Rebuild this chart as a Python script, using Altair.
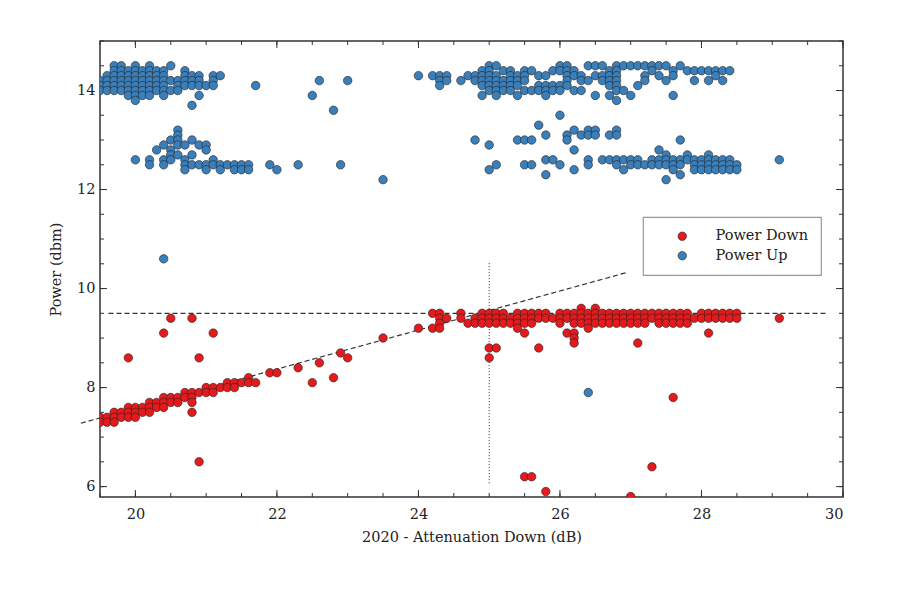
import altair as alt
import pandas as pd

# ---- data (x = attenuation, list of y = power) ----
DOWN_COLS = [
    (19.5, [7.4, 7.3]), (19.6, [7.4, 7.3]), (19.7, [7.5, 7.4, 7.3]), (19.8, [7.5, 7.4]),
    (19.9, [7.6, 7.5, 7.4, 8.6]), (20.0, [7.6, 7.5, 7.4]), (20.1, [7.6, 7.5]),
    (20.2, [7.7, 7.6, 7.5]), (20.3, [7.7, 7.6]), (20.4, [7.8, 7.7, 7.6, 9.1]),
    (20.5, [7.8, 7.7, 9.4]), (20.6, [7.8, 7.7]), (20.7, [7.9, 7.8]),
    (20.8, [7.9, 7.8, 7.7, 7.5, 9.4]), (20.9, [7.9, 8.6, 6.5]), (21.0, [8.0, 7.9]),
    (21.1, [8.0, 7.9, 9.1]), (21.2, [8.0]), (21.3, [8.1, 8.0]), (21.4, [8.1, 8.0]),
    (21.5, [8.1]), (21.6, [8.2, 8.1]), (21.7, [8.1]), (21.9, [8.3]), (22.0, [8.3]),
    (22.3, [8.4]), (22.5, [8.1]), (22.6, [8.5]), (22.8, [8.2]), (22.9, [8.7]),
    (23.0, [8.6]), (23.5, [9.0]), (24.0, [9.2]), (24.2, [9.5, 9.2]),
    (24.3, [9.5, 9.4, 9.3, 9.2]), (24.4, [9.4]), (24.6, [9.5, 9.4]), (24.7, [9.3]),
    (24.8, [9.4, 9.3]), (24.9, [9.5, 9.4, 9.3]), (25.0, [9.5, 9.4, 9.3, 8.8, 8.6]),
    (25.1, [9.5, 9.4, 9.3, 8.8]), (25.2, [9.5, 9.4, 9.3]), (25.3, [9.4, 9.3]),
    (25.4, [9.5, 9.4, 9.3, 9.2]), (25.5, [9.5, 9.4, 9.3, 9.1, 6.2]),
    (25.6, [9.5, 9.4, 9.3, 6.2]), (25.7, [9.5, 9.4, 8.8]), (25.8, [9.5, 9.4, 5.9]),
    (25.9, [9.4]), (26.0, [9.5, 9.4, 9.3]), (26.1, [9.5, 9.4, 9.1]),
    (26.2, [9.5, 9.4, 9.3, 9.1, 9.0, 8.9]), (26.3, [9.6, 9.5, 9.4, 9.3]),
    (26.4, [9.5, 9.4, 9.3, 9.2]), (26.5, [9.6, 9.5, 9.4, 9.3]), (26.6, [9.5, 9.4, 9.3]),
    (26.7, [9.5, 9.4, 9.3]), (26.8, [9.5, 9.4, 9.3]), (26.9, [9.5, 9.4, 9.3]),
    (27.0, [9.5, 9.4, 9.3, 5.8]), (27.1, [9.5, 9.4, 9.3, 8.9]), (27.2, [9.5, 9.4, 9.3]),
    (27.3, [9.5, 9.4, 6.4]), (27.4, [9.5, 9.4, 9.3]), (27.5, [9.5, 9.4, 9.3]),
    (27.6, [9.5, 9.4, 9.3, 7.8]), (27.7, [9.5, 9.4, 9.3]), (27.8, [9.5, 9.4, 9.3]),
    (27.9, [9.4]), (28.0, [9.5, 9.4]), (28.1, [9.5, 9.4, 9.1]), (28.2, [9.5, 9.4]),
    (28.3, [9.5, 9.4]), (28.4, [9.5, 9.4]), (28.5, [9.5, 9.4]), (29.1, [9.4]),
]

UP_COLS = [
    (19.5, [14.2, 14.1, 14.0]), (19.6, [14.3, 14.2, 14.1, 14.0]),
    (19.7, [14.5, 14.4, 14.3, 14.2, 14.1, 14.0]), (19.8, [14.5, 14.4, 14.3, 14.2, 14.1, 14.0]),
    (19.9, [14.4, 14.3, 14.2, 14.1, 14.0, 13.9]),
    (20.0, [14.5, 14.4, 14.3, 14.2, 14.1, 14.0, 13.9, 13.8, 12.6]),
    (20.1, [14.4, 14.3, 14.2, 14.1, 14.0, 13.9]),
    (20.2, [14.5, 14.4, 14.3, 14.2, 14.1, 14.0, 13.9, 12.6, 12.5]),
    (20.3, [14.4, 14.3, 14.2, 14.1, 14.0, 12.8]),
    (20.4, [14.4, 14.3, 14.2, 14.1, 14.0, 13.9, 12.9, 12.6, 12.5, 10.6]),
    (20.5, [14.5, 14.2, 14.0, 13.0, 12.8, 12.7, 12.6]),
    (20.6, [14.2, 14.1, 14.0, 13.2, 13.1, 13.0, 12.9, 12.7]),
    (20.7, [14.4, 14.3, 14.2, 14.1, 12.9, 12.6, 12.5, 12.4]),
    (20.8, [14.3, 14.2, 14.1, 13.7, 13.0, 12.7, 12.5]),
    (20.9, [14.3, 14.2, 14.1, 13.9, 12.9, 12.5]), (21.0, [14.1, 12.9, 12.8, 12.5, 12.4]),
    (21.1, [14.3, 14.2, 14.1, 12.6, 12.5]), (21.2, [14.3, 12.5, 12.4]), (21.3, [12.5]),
    (21.4, [12.5, 12.4]), (21.5, [12.5, 12.4]), (21.6, [12.5, 12.4]), (21.7, [14.1]),
    (21.9, [12.5]), (22.0, [12.4]), (22.3, [12.5]), (22.5, [13.9]), (22.6, [14.2]),
    (22.8, [13.6]), (22.9, [12.5]), (23.0, [14.2]), (23.5, [12.2]), (24.0, [14.3]),
    (24.2, [14.3]), (24.3, [14.3, 14.2, 14.1]), (24.4, [14.3, 14.2]), (24.6, [14.2]),
    (24.7, [14.3]), (24.8, [14.3, 14.2, 13.0]), (24.9, [14.4, 14.3, 14.2, 14.1, 13.9]),
    (25.0, [14.5, 14.4, 14.3, 14.2, 14.1, 14.0, 12.9, 12.4]),
    (25.1, [14.5, 14.3, 14.2, 14.1, 14.0, 13.9, 12.5]), (25.2, [14.4, 14.2, 14.1, 14.0]),
    (25.3, [14.4, 14.3, 14.2, 14.1, 14.0]), (25.4, [14.3, 14.2, 14.1, 13.9, 13.0]),
    (25.5, [14.4, 14.3, 14.2, 14.0, 13.0, 12.5]), (25.6, [14.4, 14.0, 13.0, 12.5]),
    (25.7, [14.3, 14.1, 14.0, 13.3]), (25.8, [14.3, 14.1, 14.0, 13.9, 13.1, 12.6, 12.3]),
    (25.9, [14.4, 14.1, 14.0, 12.6]), (26.0, [14.5, 14.4, 14.1, 14.0, 13.5, 12.5]),
    (26.1, [14.5, 14.4, 14.3, 14.2, 14.1, 13.1, 13.0]),
    (26.2, [14.4, 14.3, 14.0, 13.2, 12.8, 12.4]), (26.3, [14.3, 14.2, 14.0, 13.1]),
    (26.4, [14.5, 14.2, 13.2, 13.1, 12.6, 12.5, 7.9]), (26.5, [14.5, 14.3, 13.9, 13.2, 13.1]),
    (26.6, [14.5, 14.3, 14.2, 12.6]), (26.7, [14.4, 14.3, 14.2, 14.1, 13.9, 13.1, 12.6]),
    (26.8, [14.5, 14.4, 14.3, 14.2, 14.1, 14.0, 13.8, 13.2, 13.1, 12.6, 12.5]),
    (26.9, [14.5, 14.0, 12.6, 12.4]), (27.0, [14.5, 13.9, 12.6, 12.5]),
    (27.1, [14.5, 14.1, 12.6, 12.5]), (27.2, [14.5, 14.3, 14.2, 12.5]),
    (27.3, [14.5, 14.4, 12.6, 12.5]), (27.4, [14.5, 14.3, 12.8, 12.6, 12.5]),
    (27.5, [14.5, 14.2, 12.7, 12.6, 12.5, 12.2]), (27.6, [14.4, 14.3, 13.9, 12.6, 12.5, 12.4]),
    (27.7, [14.5, 13.0, 12.6, 12.5, 12.3]), (27.8, [14.4, 12.7, 12.6]),
    (27.9, [14.4, 14.2, 12.6, 12.5, 12.4]), (28.0, [14.4, 12.6, 12.5, 12.4]),
    (28.1, [14.4, 14.2, 12.7, 12.6, 12.5, 12.4]), (28.2, [14.4, 14.3, 12.6, 12.5, 12.4]),
    (28.3, [14.4, 14.2, 12.6, 12.5, 12.4]), (28.4, [14.4, 12.6, 12.5, 12.4]),
    (28.5, [12.5, 12.4]), (29.1, [12.6]),
]

SERIES = ["Power Down", "Power Up"]
COLORS = ["#e41a1c", "#3a7fba"]

# reference lines (endpoints)
FLAT_X = [19.62, 29.76]
FLAT_Y = [9.5, 9.5]
SLOPE_X = [19.23, 26.96]
SLOPE_Y = [7.28, 10.33]
VLINE_X = [25.0]
VLINE_Y = [6.07]
VLINE_Y2 = [10.53]

X_DOMAIN = [19.5, 30.0]
Y_DOMAIN = [5.79, 15.0]
X_LABELS = [20, 22, 24, 26, 28, 30]
Y_LABELS = [6, 8, 10, 12, 14]
X_MINOR = [19.5 + 0.5 * i for i in range(22)]
Y_MINOR = [6.0 + 0.5 * i for i in range(19)]

# ---- build tables ----
rows = []
for name, cols in (("Power Up", UP_COLS), ("Power Down", DOWN_COLS)):
    for x, ys in cols:
        for y in ys:
            rows.append({"x": x, "y": y, "series": name})
pts = pd.DataFrame(rows)

W, H = 743, 456
FONT = "DejaVu Serif"
AX = "#333333"
FS = 14.5

xs = alt.Scale(domain=X_DOMAIN, nice=False, zero=False)
ys = alt.Scale(domain=Y_DOMAIN, nice=False, zero=False)

xaxis = alt.Axis(values=X_LABELS, format="d", ticks=False, domain=False, grid=False, labelPadding=10,
                 title="2020 - Attenuation Down (dB)", titlePadding=10)
yaxis = alt.Axis(values=Y_LABELS, format="d", ticks=False, domain=False, grid=False, labelPadding=5,
                 title="Power (dbm)", titlePadding=13)

points = alt.Chart(pts).mark_circle(
    size=72, opacity=1, stroke="#222222", strokeWidth=0.6, clip=True
).encode(
    x=alt.X("x:Q", scale=xs, axis=xaxis),
    y=alt.Y("y:Q", scale=ys, axis=yaxis),
    color=alt.Color("series:N", scale=alt.Scale(domain=SERIES, range=COLORS),
                    legend=alt.Legend(title=None, orient="none", legendX=543, legendY=176,
                                      padding=12, symbolOffset=20, labelOffset=26,
                                      labelExpr="datum.label + '\u00a0\u00a0\u00a0\u00a0'",
                                      fillColor="white", strokeColor="#999999",
                                      symbolType="circle", symbolSize=72,
                                      symbolStrokeWidth=0.6, symbolStrokeColor="#222222",
                                      rowPadding=4.5, labelFontSize=FS, labelFont=FONT,
                                      labelColor="#222222")),
)

flat = alt.Chart(pd.DataFrame({"x": FLAT_X, "y": FLAT_Y})).mark_line(
    color=AX, strokeWidth=1.2, strokeDash=[5, 3]).encode(x=alt.X("x:Q", scale=xs), y=alt.Y("y:Q", scale=ys))
slope = alt.Chart(pd.DataFrame({"x": SLOPE_X, "y": SLOPE_Y})).mark_line(
    color=AX, strokeWidth=1.2, strokeDash=[5, 3]).encode(x=alt.X("x:Q", scale=xs), y=alt.Y("y:Q", scale=ys))
vline = alt.Chart(pd.DataFrame({"x": VLINE_X, "y": VLINE_Y, "y2": VLINE_Y2})).mark_rule(
    color=AX, strokeWidth=1, strokeDash=[1, 2]).encode(
    x=alt.X("x:Q", scale=xs), y=alt.Y("y:Q", scale=ys), y2="y2:Q")


def xticks(vals, length):
    d = pd.DataFrame({"v": vals})
    bot = alt.Chart(d).mark_rule(color=AX, strokeWidth=1).encode(
        x=alt.X("v:Q", scale=xs), y=alt.value(H), y2=alt.value(H - length))
    top = alt.Chart(d).mark_rule(color=AX, strokeWidth=1).encode(
        x=alt.X("v:Q", scale=xs), y=alt.value(0), y2=alt.value(length))
    return [bot, top]


def yticks(vals, length):
    d = pd.DataFrame({"v": vals})
    left = alt.Chart(d).mark_rule(color=AX, strokeWidth=1).encode(
        y=alt.Y("v:Q", scale=ys), x=alt.value(0), x2=alt.value(length))
    right = alt.Chart(d).mark_rule(color=AX, strokeWidth=1).encode(
        y=alt.Y("v:Q", scale=ys), x=alt.value(W), x2=alt.value(W - length))
    return [left, right]


tick_layers = xticks(X_MINOR, 4) + xticks(X_LABELS, 7) + yticks(Y_MINOR, 4) + yticks(Y_LABELS, 7)

chart = alt.layer(flat, slope, vline, *tick_layers, points).properties(
    width=W, height=H,
    autosize=alt.AutoSizeParams(type="none"),
    padding={"left": 92, "top": 33, "right": 49, "bottom": 60},
    background="white",
).configure_view(
    stroke=AX, strokeWidth=1.5
).configure_axis(
    labelFont=FONT, labelFontSize=FS, labelColor="#222222",
    titleFont=FONT, titleFontSize=FS, titleColor="#222222", titleFontWeight="normal",
).configure_legend(
    strokeWidth=1.2
)

chart.save("out.html", embed_options={"renderer": "svg", "actions": False})
